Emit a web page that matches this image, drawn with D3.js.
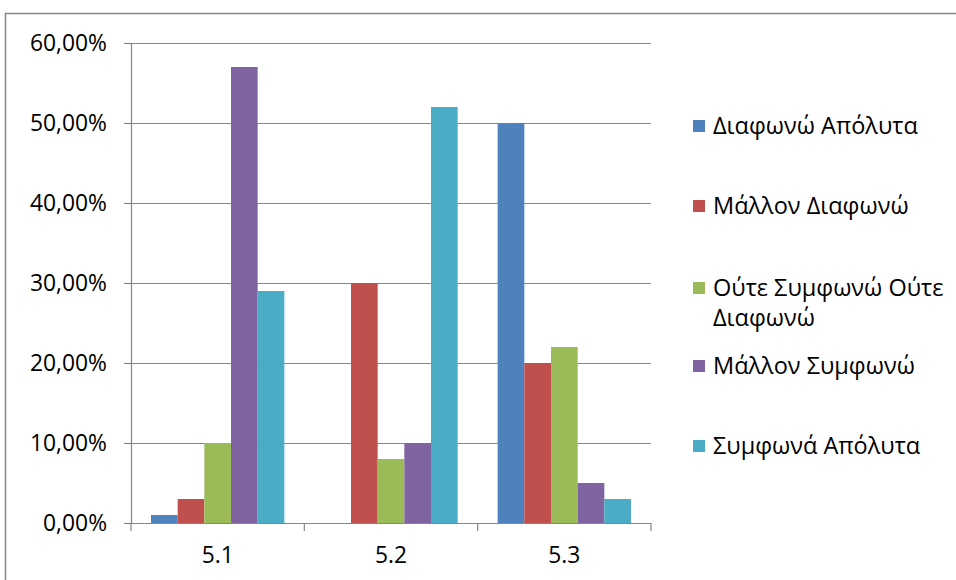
<!DOCTYPE html>
<html><head><meta charset="utf-8">
<script src="https://cdn.jsdelivr.net/npm/d3@7"></script>
<style>body{margin:0;background:#fff}svg{display:block}text{font-family:"Open Sans",sans-serif;fill:#000}</style>
</head><body>
<svg id="c" width="956" height="580"></svg>
<script>
const categories = ["5.1", "5.2", "5.3"];
const seriesNames = ["Διαφωνώ Απόλυτα", "Μάλλον Διαφωνώ", "Ούτε Συμφωνώ Ούτε Διαφωνώ", "Μάλλον Συμφωνώ", "Συμφωνά Απόλυτα"];
const legendLines = [["Διαφωνώ Απόλυτα"], ["Μάλλον Διαφωνώ"], ["Ούτε Συμφωνώ Ούτε", "Διαφωνώ"], ["Μάλλον Συμφωνώ"], ["Συμφωνά Απόλυτα"]];
const colors = ["#4F81BD", "#C0504D", "#9BBB59", "#8064A2", "#4BACC6"];
const diafonoApolyta = [0.01, 0.00, 0.50];
const mallonDiafono = [0.03, 0.30, 0.20];
const oute = [0.10, 0.08, 0.22];
const mallonSymfono = [0.57, 0.10, 0.05];
const symfonaApolyta = [0.29, 0.52, 0.03];
const yTicks = [0, 0.1, 0.2, 0.3, 0.4, 0.5, 0.6];

const series = [diafonoApolyta, mallonDiafono, oute, mallonSymfono, symfonaApolyta];
const svg = d3.select("#c");
const grey = "#868686";

// size a font so that a sample string reaches a target width
function fitSize(sample, target) {
  const t = svg.append("text").style("font-size", "20px").text(sample);
  const w = t.node().getComputedTextLength();
  t.remove();
  return 20 * target / w;
}
const tickSize = fitSize("60,00%", 77);
const catSize = fitSize("5.1", 32);
const legSize = fitSize("Διαφωνώ Απόλυτα", 205);

svg.append("rect").attr("x", 5.5).attr("y", 13.5).attr("width", 1000).attr("height", 700)
  .attr("fill", "none").attr("stroke", grey).attr("stroke-width", 1.5);

const x0 = d3.scaleBand().domain(categories).range([131, 651]).paddingInner(0).paddingOuter(0);
const x1 = d3.scaleBand().domain(d3.range(5)).range([0, x0.bandwidth()]).paddingOuter(0.75).paddingInner(0);
const y = d3.scaleLinear().domain([0, 0.6]).range([523, 43]);

const fmt = v => d3.format(".2f")(v * 100).replace(".", ",") + "%";

// gridlines
svg.append("g").selectAll("line").data(yTicks).join("line")
  .attr("x1", 124).attr("x2", 651).attr("y1", d => Math.round(y(d)) + 0.5).attr("y2", d => Math.round(y(d)) + 0.5)
  .attr("stroke", grey).attr("stroke-width", 1.2);

// bars
categories.forEach((c, ci) => {
  series.forEach((s, si) => {
    svg.append("rect").attr("x", x0(c) + x1(si)).attr("width", x1.bandwidth())
      .attr("y", y(s[ci])).attr("height", y(0) - y(s[ci])).attr("fill", colors[si]);
  });
});

// y axis
const yAxis = d3.axisLeft(y).tickValues(yTicks).tickFormat(fmt).tickSize(7).tickPadding(17);
const ya = svg.append("g").attr("transform", "translate(131,0)").call(yAxis);
ya.select(".domain").attr("stroke", grey).attr("stroke-width", 1.2);
ya.selectAll(".tick line").attr("stroke", grey).attr("stroke-width", 1.2);
ya.selectAll(".tick text").style("font-size", tickSize + "px").attr("fill", "#000");

// x axis
const xAxis = d3.axisBottom(x0).tickSize(0).tickPadding(24);
const xa = svg.append("g").attr("transform", "translate(0,523)").call(xAxis);
xa.select(".domain").remove();
xa.selectAll(".tick text").style("font-size", catSize + "px").attr("fill", "#000");
svg.append("line").attr("x1", 124).attr("x2", 651).attr("y1", 523.5).attr("y2", 523.5).attr("stroke", grey).attr("stroke-width", 1.2);
svg.append("g").selectAll("line").data(categories.map(c => x0(c)).concat([x0.range()[1]])).join("line")
  .attr("x1", d => d).attr("x2", d => d).attr("y1", 523).attr("y2", 531).attr("stroke", grey).attr("stroke-width", 1.2);

// legend
const legY = [126, 206, 288, 366, 446];
const lg = svg.append("g");
legendLines.forEach((lines, i) => {
  lg.append("rect").attr("x", 693).attr("y", legY[i] - 6).attr("width", 12).attr("height", 12).attr("fill", colors[i]);
  lines.forEach((t, li) => {
    lg.append("text").attr("x", 713).attr("y", legY[i] + li * 30).attr("dy", "0.35em")
      .style("font-size", legSize + "px").text(t);
  });
});
</script>
</body></html>
